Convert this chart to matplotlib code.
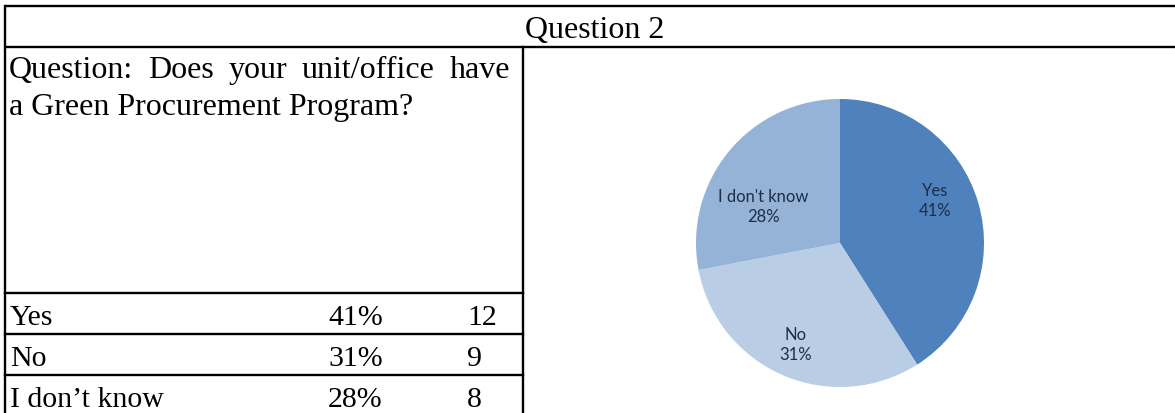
import matplotlib
matplotlib.use("Agg")
import matplotlib.pyplot as plt

# survey data
TITLE = "Question 2"
QUESTION_LINES = ["Question: Does your unit/office have", "a Green Procurement Program?"]
answers = ["Yes", "No", "I don\u2019t know"]
pie_labels = ["Yes", "No", "I don't know"]
percents = [41, 31, 28]
counts = [12, 9, 8]
colors = ["#4F81BD", "#B9CDE5", "#95B3D7"]
# where Excel's "best fit" put each data label, in pie-radius units
label_xy = [(0.66, 0.30), (-0.31, -0.70), (-0.53, 0.26)]

W, H = 1175, 414
SERIF = "Liberation Serif"
FS = 21.5
FS_Q = 23

fig = plt.figure(figsize=(W / 100, H / 100), dpi=100)
ax = fig.add_axes([0, 0, 1, 1])
ax.set_xlim(0, W)
ax.set_ylim(H, 0)
ax.axis("off")

# table grid
lw = 1.7
ax.plot([5, W + 10], [7, 7], color="black", lw=lw, solid_capstyle="butt")
ax.plot([5, W + 10], [48, 48], color="black", lw=lw, solid_capstyle="butt")
ax.plot([5, 5], [7, H + 10], color="black", lw=lw)
ax.plot([523, 523], [48, H + 10], color="black", lw=lw)
row_tops = [294, 335, 376]
for y in row_tops:
    ax.plot([5, 523], [y, y], color="black", lw=lw)

ax.text(595, 38, TITLE, fontsize=FS_Q, family=SERIF, ha="center", va="baseline")


def justify(words, x0, x1, y):
    renderer = fig.canvas.get_renderer()
    texts = [ax.text(0, y, w, fontsize=FS_Q, family=SERIF, va="baseline") for w in words]
    widths = [t.get_window_extent(renderer).width for t in texts]
    gap = (x1 - x0 - sum(widths)) / (len(words) - 1)
    x = x0
    for t, w in zip(texts, widths):
        t.set_x(x)
        x += w + gap


justify(QUESTION_LINES[0].split(), 9, 510, 78)
ax.text(9, 115, QUESTION_LINES[1], fontsize=FS_Q, family=SERIF, va="baseline")

for i, (a, p, c) in enumerate(zip(answers, percents, counts)):
    yb = row_tops[i] + 31
    ax.text(10, yb, a, fontsize=FS, family=SERIF, va="baseline")
    ax.text(328, yb, f"{p}%", fontsize=FS, family=SERIF, va="baseline")
    ax.text(467, yb, str(c), fontsize=FS, family=SERIF, va="baseline")

# pie chart
cx, cy, r = 840, 244, 144
pax = fig.add_axes([(cx - r) / W, (H - cy - r) / H, 2 * r / W, 2 * r / H])
wedges, texts, autotexts = pax.pie(
    percents, colors=colors, startangle=90, counterclock=False,
    autopct=lambda v: "", pctdistance=0.7,
    wedgeprops=dict(edgecolor="none"))
for at, lab, p, xy in zip(autotexts, pie_labels, percents, label_xy):
    at.set_text(f"{lab}\n{p}%")
    at.set_position(xy)
    at.set_fontsize(12)
    at.set_family("Lato")
    at.set_color("#1E2E48")
    at.set_linespacing(1.3)
pax.set_xlim(-1, 1)
pax.set_ylim(-1, 1)
pax.set_aspect("equal")
pax.axis("off")

fig.savefig("out.png", dpi=100)
